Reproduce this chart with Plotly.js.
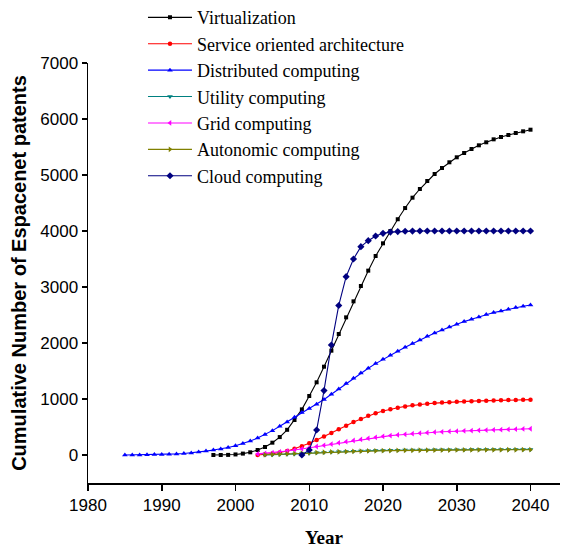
<!DOCTYPE html>
<html>
<head>
<meta charset="utf-8">
<script src="https://cdn.plot.ly/plotly-3.0.1.min.js"></script>
<style>
  html, body { margin: 0; padding: 0; background: #fff; }
  #chart { width: 563px; height: 548px; }
</style>
</head>
<body>
<div id="chart"></div>
<script>
// Cumulative patent counts per technology, observed plus fitted projection to 2040
const seriesNames = [
  "Virtualization",
  "Service oriented architecture",
  "Distributed computing",
  "Utility computing",
  "Grid computing",
  "Autonomic computing",
  "Cloud computing"
];

const firstYears = [1997, 2003, 1985, 2004, 2003, 2004, 2009];

const virtualization = [
  0, 0, 2, 10, 25, 48, 89, 143, 220, 320,
  450, 625, 815, 1054, 1298, 1577, 1863, 2161, 2458, 2744,
  3018, 3292, 3554, 3780, 4000, 4210, 4410, 4595, 4750, 4893,
  5018, 5125, 5227, 5316, 5393, 5464, 5530, 5584, 5637, 5679,
  5714, 5750, 5780, 5809
];

const serviceOriented = [
  0, 10, 25, 45, 70, 110, 155, 210, 270, 330,
  393, 459, 524, 589, 645, 700, 745, 785, 818, 845,
  868, 887, 903, 916, 927, 936, 944, 951, 957, 962,
  966, 970, 974, 977, 980, 983, 986, 988
];

const distributed = [
  0, 1, 2, 4, 7, 10, 14, 20, 27, 37,
  55, 70, 88, 108, 135, 165, 205, 250, 302, 365,
  435, 512, 590, 672, 757, 830, 905, 990, 1085, 1180,
  1278, 1372, 1463, 1550, 1632, 1709, 1780, 1852, 1923, 1989,
  2054, 2120, 2179, 2232, 2286, 2334, 2382, 2423, 2464, 2507,
  2543, 2571, 2602, 2632, 2655, 2679
];

const utility = [
  0, 3, 7, 12, 18, 25, 32, 39, 46, 52,
  58, 63, 68, 72, 76, 79, 82, 84, 86, 88,
  89, 90, 91, 92, 93, 94, 94, 95, 96, 96,
  97, 97, 98, 98, 99, 99, 100
];

const grid = [
  20, 30, 42, 56, 72, 90, 110, 130, 152, 173,
  195, 217, 238, 259, 279, 298, 316, 333, 346, 358,
  369, 380, 390, 399, 407, 414, 420, 426, 431, 436,
  441, 445, 449, 453, 457, 461, 465, 469
];

const autonomic = [
  5, 10, 15, 20, 26, 32, 38, 44, 49, 54,
  58, 62, 66, 69, 72, 75, 77, 79, 81, 83,
  84, 85, 86, 87, 88, 89, 90, 90, 91, 92,
  92, 93, 93, 94, 94, 95, 95
];

const cloud = [
  0, 90, 446, 1150, 1965, 2670, 3185, 3500, 3720, 3827,
  3910, 3958, 3980, 3990, 3995, 3998, 4000, 4000, 4000, 4000,
  4000, 4000, 4000, 4000, 4000, 4000, 4000, 4000, 4000, 4000,
  4000, 4000
];

const xTicks = [1980, 1990, 2000, 2010, 2020, 2030, 2040];
const yTicks = [0, 1000, 2000, 3000, 4000, 5000, 6000, 7000];

const allValues = [virtualization, serviceOriented, distributed, utility, grid, autonomic, cloud];

const colors = ["#000000", "#ff0000", "#0000ff", "#008080", "#ff00ff", "#808000", "#000080"];
const symbols = ["square", "circle", "triangle-up", "triangle-down", "triangle-left", "triangle-right", "diamond"];
const sizes = [4, 4.5, 5, 5, 5, 5, 5.5];

function yearsFor(start, values) {
  return values.map((_, i) => start + i);
}

const traces = allValues.map((vals, k) => ({
  type: "scatter",
  mode: "lines+markers",
  name: seriesNames[k],
  x: yearsFor(firstYears[k], vals),
  y: vals,
  line: { color: colors[k], width: 1.1 },
  marker: { color: colors[k], symbol: symbols[k], size: sizes[k], line: { width: 0 } }
}));

const axisFont = { family: "Liberation Sans, Arial, sans-serif", size: 17, color: "#000" };

const layout = {
  width: 563,
  height: 548,
  margin: { l: 88, r: 3, t: 63, b: 65, autoexpand: false },
  paper_bgcolor: "#fff",
  plot_bgcolor: "#fff",
  showlegend: true,
  legend: {
    x: 0.1165, y: 1.152, xanchor: "left", yanchor: "top",
    bgcolor: "rgba(0,0,0,0)", borderwidth: 0,
    font: { family: "Liberation Serif, Times New Roman, serif", size: 18, color: "#000" },
    itemwidth: 44,
    tracegroupgap: 0
  },
  xaxis: {
    range: [1980, 2044],
    tickvals: xTicks,
    ticktext: xTicks.map(String),
    ticks: "outside", ticklen: 6, tickwidth: 1.5, tickcolor: "#000",
    showline: true, linecolor: "#000", linewidth: 1.5,
    showgrid: false, zeroline: false,
    tickfont: axisFont,
    title: {
      text: "<b>Year</b>",
      font: { family: "Liberation Serif, Times New Roman, serif", size: 19, color: "#000" },
      standoff: 18
    }
  },
  yaxis: {
    range: [-500, 7000],
    tickvals: yTicks,
    ticktext: yTicks.map(String),
    ticks: "outside", ticklen: 5, tickwidth: 1.5, tickcolor: "#000",
    showline: true, linecolor: "#000", linewidth: 1.5,
    showgrid: false, zeroline: false,
    tickfont: axisFont,
    title: {
      text: "<b>Cumulative Number of Espacenet patents</b>",
      font: { family: "Liberation Sans, Arial, sans-serif", size: 20, color: "#000" },
      standoff: 8
    }
  }
};

Plotly.newPlot("chart", traces, layout, { displayModeBar: false, staticPlot: true });
</script>
</body>
</html>
